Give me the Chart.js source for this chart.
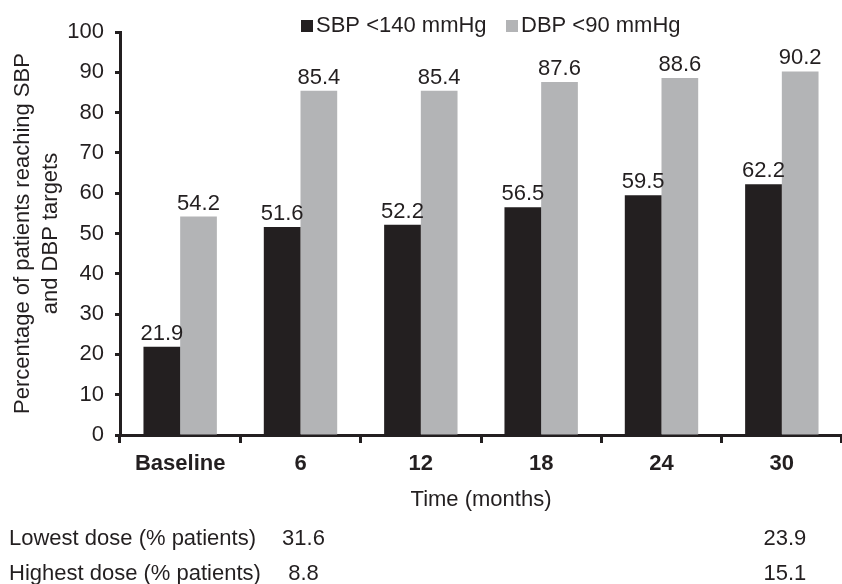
<!DOCTYPE html>
<html>
<head>
<meta charset="utf-8">
<script src="https://cdn.jsdelivr.net/npm/chart.js@4.4.1/dist/chart.umd.min.js"></script>
<style>
  html, body { margin: 0; padding: 0; background: #ffffff; }
  #wrap { width: 842px; height: 584px; position: relative; }
</style>
</head>
<body>
<div id="wrap"><canvas id="chart" width="842" height="584"></canvas></div>
<script>
// Time points on the x axis
const timepoints = ['Baseline', '6', '12', '18', '24', '30'];

// Percentage of patients reaching each target
const sbpValues = [21.9, 51.6, 52.2, 56.5, 59.5, 62.2];
const dbpValues = [54.2, 85.4, 85.4, 87.6, 88.6, 90.2];
const seriesNames = ['SBP <140 mmHg', 'DBP <90 mmHg'];

// Y axis range and tick step
const yMin = 0;
const yMax = 100;
const yStep = 10;

// Dose table shown beneath the axis (null = no entry at that time point)
const doseRowLabels = ['Lowest dose (% patients)', 'Highest dose (% patients)'];
const lowestDose = [null, 31.6, null, null, null, 23.9];
const highestDose = [null, 8.8, null, null, null, 15.1];

const INK = '#231f20';
const GREY = '#b3b4b6';
const FONT_FAMILY = '"Liberation Sans", Arial, Helvetica, sans-serif';

Chart.defaults.font.family = FONT_FAMILY;
Chart.defaults.font.size = 22;
Chart.defaults.color = INK;

// Legend drawn above the plot
const legendPlugin = {
  id: 'topLegend',
  afterDraw(chart) {
    const ctx = chart.ctx;
    ctx.save();
    ctx.font = '22px ' + FONT_FAMILY;
    ctx.textBaseline = 'alphabetic';
    ctx.textAlign = 'left';
    const items = [
      { x: 301, color: INK, text: seriesNames[0] },
      { x: 506, color: GREY, text: seriesNames[1] }
    ];
    items.forEach(it => {
      ctx.fillStyle = it.color;
      ctx.fillRect(it.x, 20, 12, 12);
      ctx.fillStyle = INK;
      ctx.fillText(it.text, it.x + 15, 32);
    });
    ctx.restore();
  }
};

// Value labels above each bar
const valueLabelPlugin = {
  id: 'valueLabels',
  afterDatasetsDraw(chart) {
    const ctx = chart.ctx;
    ctx.save();
    ctx.font = '22px ' + FONT_FAMILY;
    ctx.fillStyle = INK;
    ctx.textAlign = 'center';
    ctx.textBaseline = 'alphabetic';
    chart.data.datasets.forEach((ds, di) => {
      const meta = chart.getDatasetMeta(di);
      meta.data.forEach((bar, i) => {
        ctx.fillText(ds.data[i].toFixed(1), bar.x, bar.y - 7);
      });
    });
    ctx.restore();
  }
};

// Dose rows under the x axis, aligned with the category centres
const doseTablePlugin = {
  id: 'doseTable',
  afterDraw(chart) {
    const ctx = chart.ctx;
    const xs = chart.scales.x;
    const rows = [lowestDose, highestDose];
    const baselines = [545, 580];
    ctx.save();
    ctx.font = '22px ' + FONT_FAMILY;
    ctx.fillStyle = INK;
    ctx.textBaseline = 'alphabetic';
    rows.forEach((row, r) => {
      ctx.textAlign = 'left';
      ctx.fillText(doseRowLabels[r], 9, baselines[r]);
      ctx.textAlign = 'center';
      row.forEach((v, i) => {
        if (v === null) return;
        ctx.fillText(v.toFixed(1), xs.getPixelForValue(i) + 3, baselines[r]);
      });
    });
    ctx.restore();
  }
};

new Chart(document.getElementById('chart'), {
  type: 'bar',
  data: {
    labels: timepoints,
    datasets: [
      { label: seriesNames[0], data: sbpValues, backgroundColor: INK, borderWidth: 0 },
      { label: seriesNames[1], data: dbpValues, backgroundColor: GREY, borderWidth: 0 }
    ]
  },
  options: {
    responsive: false,
    devicePixelRatio: 1,
    animation: false,
    layout: { padding: { top: 32, left: 0, right: 0, bottom: 0 } },
    datasets: { bar: { categoryPercentage: 0.61, barPercentage: 1.0 } },
    plugins: {
      legend: { display: false },
      tooltip: { enabled: false }
    },
    scales: {
      x: {
        grid: {
          drawOnChartArea: false,
          drawTicks: true,
          tickLength: 8,
          tickWidth: 3,
          tickColor: INK,
          offset: true
        },
        border: { display: true, width: 3, color: INK },
        ticks: { font: { size: 22, weight: 'bold' }, padding: 8, color: INK },
        title: {
          display: true,
          text: 'Time (months)',
          font: { size: 22 },
          color: INK,
          padding: { top: 0, bottom: 71 }
        },
        afterFit(scale) { scale.height = 149; }
      },
      y: {
        min: yMin,
        max: yMax,
        ticks: { stepSize: yStep, padding: 11, color: INK, font: { size: 22 } },
        grid: {
          drawOnChartArea: false,
          drawTicks: true,
          tickLength: 5,
          tickWidth: 3,
          tickColor: INK
        },
        border: { display: true, width: 3, color: INK },
        title: {
          display: true,
          text: ['Percentage of patients reaching SBP', 'and DBP targets'],
          font: { size: 22, lineHeight: 1.27 },
          color: INK,
          padding: { top: 9, bottom: 0 }
        },
        afterFit(scale) { scale.width = 120; }
      }
    }
  },
  plugins: [legendPlugin, valueLabelPlugin, doseTablePlugin]
});
</script>
</body>
</html>
